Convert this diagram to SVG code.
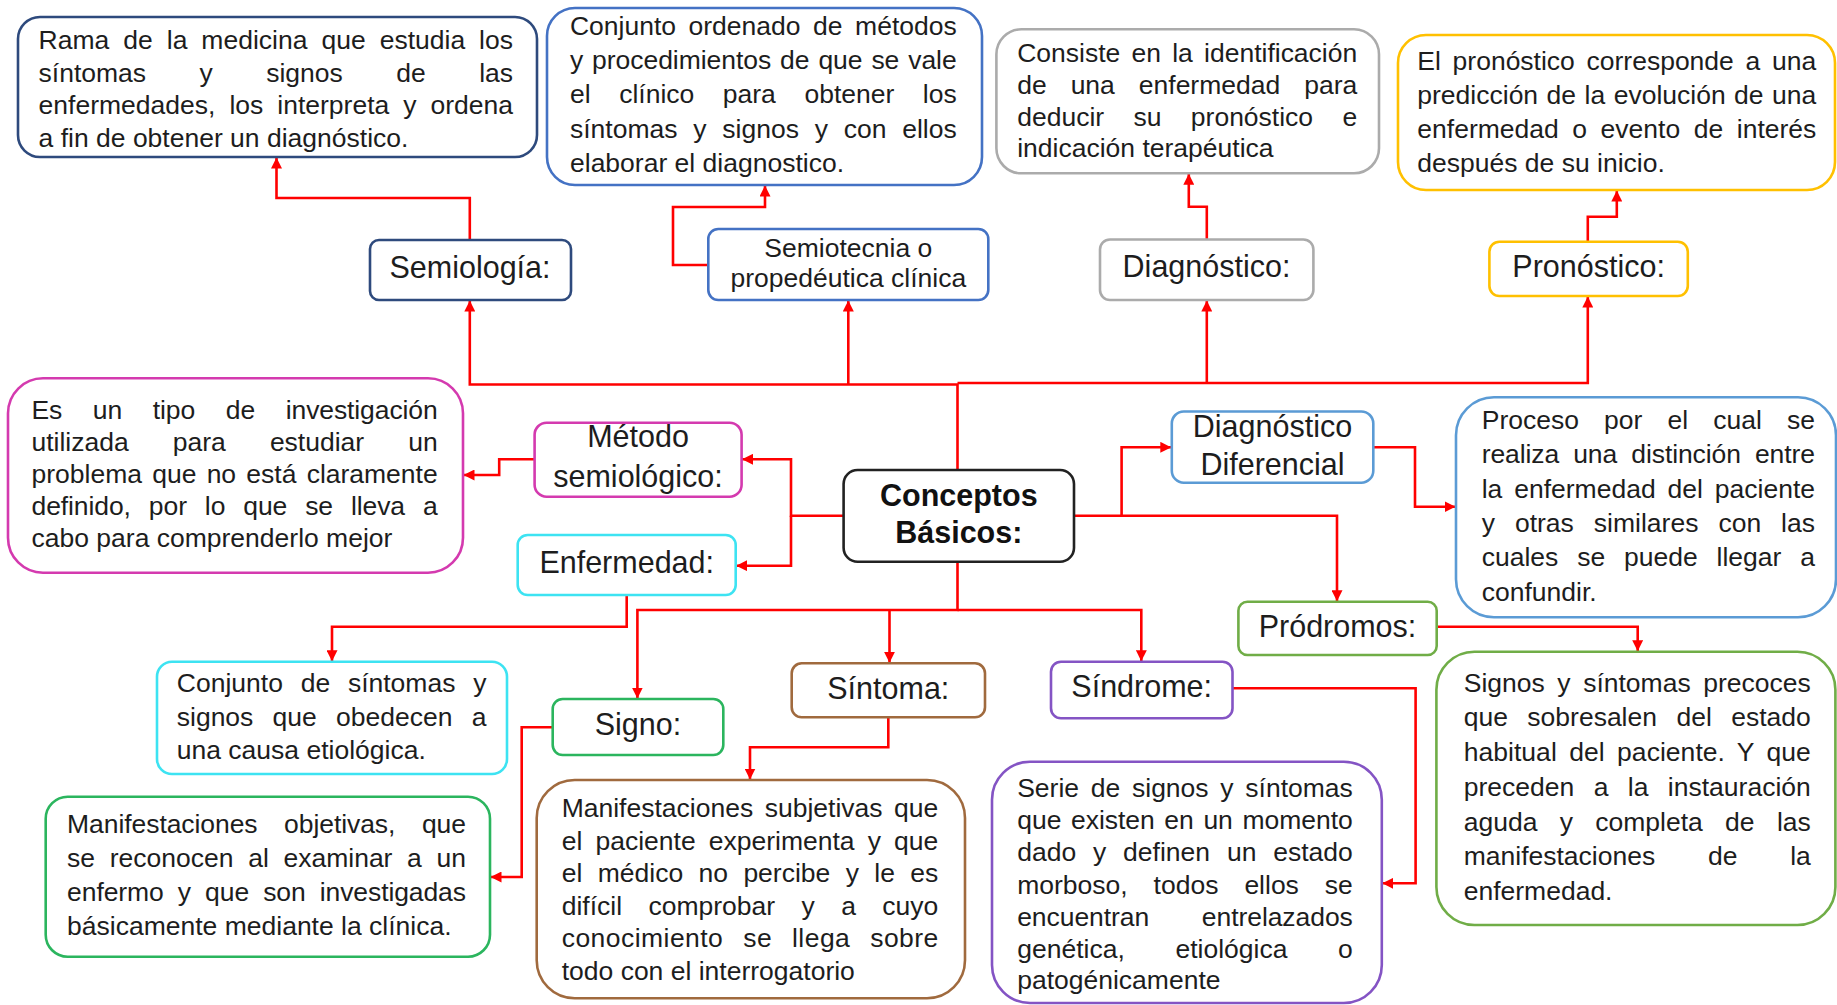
<svg xmlns="http://www.w3.org/2000/svg" width="1837" height="1005" viewBox="0 0 1837 1005">
<defs>
<marker id="ah" viewBox="0 0 10 10" refX="10" refY="5" markerWidth="11" markerHeight="11" markerUnits="userSpaceOnUse" orient="auto"><path d="M0,0 L10,5 L0,10 z" fill="#ff0000"/></marker>
<style>
.bx{fill:#ffffff;stroke-width:2.6}
.b{font-family:"Liberation Sans",Arial,sans-serif;font-size:26.5px;fill:#1d1d1d}
.l{font-family:"Liberation Sans",Arial,sans-serif;font-size:30.5px;fill:#1d1d1d;text-anchor:middle}
.k{font-family:"Liberation Sans",Arial,sans-serif;font-size:30.5px;font-weight:bold;fill:#111;text-anchor:middle}
.c{fill:none;stroke:#ff0000;stroke-width:2.6;marker-end:url(#ah)}
.c0{fill:none;stroke:#ff0000;stroke-width:2.6}
.navy{stroke:#2E4A7D}.blue{stroke:#4472C4}.gray{stroke:#ABABAB}.gold{stroke:#FFC000}
.mag{stroke:#D43AAF}.cyan{stroke:#3DE3F2}.lblue{stroke:#5B9BD5}.lgreen{stroke:#70AD47}
.green{stroke:#2BB55E}.brown{stroke:#A06A3E}.purple{stroke:#8454C4}.black{stroke:#222}
</style>
</defs>
<rect width="1837" height="1005" fill="#ffffff"/>

<g id="connectors">
<path class="c" d="M469.8,240 V198 H276.5 V157.5"/>
<path class="c" d="M708.3,265 H673 V207 H765 V185.5"/>
<path class="c" d="M1206.8,239.5 V206.7 H1188.8 V173.8"/>
<path class="c" d="M1587.8,241.7 V216.7 H1616.8 V190.5"/>
<path class="c" d="M957.5,470 V384.5 H469.8 V300.5"/>
<path class="c" d="M848.3,384.5 V300.5"/>
<path class="c" d="M957.5,383 H1587.8 V296.5"/>
<path class="c" d="M1206.8,383 V300.5"/>
<path class="c" d="M843.6,515.7 H791 V459.3 H742"/>
<path class="c" d="M791,515.7 V565.7 H736.2"/>
<path class="c" d="M534.6,459.3 H499.2 V475 H463.5"/>
<path class="c" d="M626.7,595 V626.7 H332 V661.2"/>
<path class="c" d="M957.5,561.7 V610 H637.4 V698.5"/>
<path class="c" d="M957.5,610 H1141.3 V661.2"/>
<path class="c" d="M889.5,610 V662.8"/>
<path class="c" d="M552.7,727.3 H521.7 V877 H490.5"/>
<path class="c" d="M888.3,717.3 V747.3 H750 V779.5"/>
<path class="c" d="M1232.5,688.3 H1415.6 V883.3 H1382.3"/>
<path class="c" d="M1074,515.7 H1121.6 V447.3 H1171.3"/>
<path class="c" d="M1121.6,515.7 H1337 V601.2"/>
<path class="c" d="M1373.3,447.3 H1415 V506.7 H1455.5"/>
<path class="c" d="M1436.7,626.7 H1637.7 V651.2"/>
</g>

<g id="conceptos">
<rect class="bx black" x="843.6" y="470" width="230.4" height="91.7" rx="14"/>
<text class="k" x="958.8" y="506">Conceptos</text>
<text class="k" x="958.8" y="542.7">Básicos:</text>
</g>

<g id="semiologia">
<rect class="bx navy" x="370" y="240" width="201" height="60" rx="9"/>
<text class="l" x="470" y="278">Semiología:</text>
</g>
<g id="def-semiologia">
<rect class="bx navy" x="18" y="17" width="519" height="140" rx="22"/>
<text class="b" x="38.6" y="49" textLength="474.4" lengthAdjust="spacing" word-spacing="6.6">Rama de la medicina que estudia los</text>
<text class="b" x="38.6" y="81.5" textLength="474.4" lengthAdjust="spacing" word-spacing="46.1">síntomas y signos de las</text>
<text class="b" x="38.6" y="114" textLength="474.4" lengthAdjust="spacing" word-spacing="6.6">enfermedades, los interpreta y ordena</text>
<text class="b" x="38.6" y="146.5">a fin de obtener un diagnóstico.</text>
</g>

<g id="semiotecnia">
<rect class="bx blue" x="708.3" y="229" width="280" height="71" rx="10"/>
<text class="b" x="848.3" y="256.7" text-anchor="middle">Semiotecnia o</text>
<text class="b" x="848.3" y="287" text-anchor="middle">propedéutica clínica</text>
</g>
<g id="def-semiotecnia">
<rect class="bx blue" x="547" y="8" width="435" height="177" rx="28"/>
<text class="b" x="570" y="35" textLength="386.7" lengthAdjust="spacing" word-spacing="5.2">Conjunto ordenado de métodos</text>
<text class="b" x="570" y="69.2" textLength="386.7" lengthAdjust="spacing" word-spacing="1.6">y procedimientos de que se vale</text>
<text class="b" x="570" y="103.4" textLength="386.7" lengthAdjust="spacing" word-spacing="21.2">el clínico para obtener los</text>
<text class="b" x="570" y="137.6" textLength="386.7" lengthAdjust="spacing" word-spacing="8.4">síntomas y signos y con ellos</text>
<text class="b" x="570" y="171.8">elaborar el diagnostico.</text>
</g>

<g id="diagnostico">
<rect class="bx gray" x="1100" y="239.5" width="213.4" height="60.5" rx="10"/>
<text class="l" x="1206.5" y="277">Diagnóstico:</text>
</g>
<g id="def-diagnostico">
<rect class="bx gray" x="996.4" y="29.3" width="382.6" height="144" rx="25"/>
<text class="b" x="1017.2" y="61.7" textLength="340" lengthAdjust="spacing" word-spacing="3.9">Consiste en la identificación</text>
<text class="b" x="1017.2" y="93.5" textLength="340" lengthAdjust="spacing" word-spacing="16.6">de una enfermedad para</text>
<text class="b" x="1017.2" y="125.5" textLength="340" lengthAdjust="spacing" word-spacing="22">deducir su pronóstico e</text>
<text class="b" x="1017.2" y="157.3">indicación terapéutica</text>
</g>

<g id="pronostico">
<rect class="bx gold" x="1489.4" y="241.7" width="198.4" height="54.3" rx="10"/>
<text class="l" x="1588.6" y="276.7">Pronóstico:</text>
</g>
<g id="def-pronostico">
<rect class="bx gold" x="1398" y="35" width="437" height="155" rx="28"/>
<text class="b" x="1417.3" y="70" textLength="399" lengthAdjust="spacing" word-spacing="4.4">El pronóstico corresponde a una</text>
<text class="b" x="1417.3" y="103.8" textLength="399" lengthAdjust="spacing" word-spacing="1.1">predicción de la evolución de una</text>
<text class="b" x="1417.3" y="137.6" textLength="399" lengthAdjust="spacing" word-spacing="6.2">enfermedad o evento de interés</text>
<text class="b" x="1417.3" y="171.5">después de su inicio.</text>
</g>

<g id="metodo">
<rect class="bx mag" x="534.6" y="422.7" width="207" height="74" rx="12"/>
<text class="l" x="638" y="447.3">Método</text>
<text class="l" x="638" y="487.3">semiológico:</text>
</g>
<g id="def-metodo">
<rect class="bx mag" x="8" y="378.3" width="455" height="194.4" rx="35"/>
<text class="b" x="31.5" y="419.3" textLength="406.2" lengthAdjust="spacing" word-spacing="23.4">Es un tipo de investigación</text>
<text class="b" x="31.5" y="451" textLength="406.2" lengthAdjust="spacing" word-spacing="36.7">utilizada para estudiar un</text>
<text class="b" x="31.5" y="483" textLength="406.2" lengthAdjust="spacing" word-spacing="2.9">problema que no está claramente</text>
<text class="b" x="31.5" y="515" textLength="406.2" lengthAdjust="spacing" word-spacing="10.7">definido, por lo que se lleva a</text>
<text class="b" x="31.5" y="547">cabo para comprenderlo mejor</text>
</g>

<g id="enfermedad">
<rect class="bx cyan" x="517.7" y="535" width="218" height="60" rx="10"/>
<text class="l" x="626.7" y="573.3">Enfermedad:</text>
</g>
<g id="def-enfermedad">
<rect class="bx cyan" x="157" y="661.7" width="350" height="112.3" rx="15"/>
<text class="b" x="176.8" y="691.7" textLength="309.6" lengthAdjust="spacing" word-spacing="10.4">Conjunto de síntomas y</text>
<text class="b" x="176.8" y="725.5" textLength="309.6" lengthAdjust="spacing" word-spacing="11.9">signos que obedecen a</text>
<text class="b" x="176.8" y="759.3">una causa etiológica.</text>
</g>

<g id="diag-diferencial">
<rect class="bx lblue" x="1171.8" y="411.5" width="201.5" height="71.2" rx="12"/>
<text class="l" x="1272.5" y="437.3">Diagnóstico</text>
<text class="l" x="1272.5" y="475">Diferencial</text>
</g>
<g id="def-diag-diferencial">
<rect class="bx lblue" x="1456" y="397.3" width="380" height="220" rx="38"/>
<text class="b" x="1481.7" y="429" textLength="333.3" lengthAdjust="spacing" word-spacing="17.8">Proceso por el cual se</text>
<text class="b" x="1481.7" y="463.3" textLength="333.3" lengthAdjust="spacing" word-spacing="6.9">realiza una distinción entre</text>
<text class="b" x="1481.7" y="497.7" textLength="333.3" lengthAdjust="spacing" word-spacing="4.6">la enfermedad del paciente</text>
<text class="b" x="1481.7" y="532" textLength="333.3" lengthAdjust="spacing" word-spacing="12.6">y otras similares con las</text>
<text class="b" x="1481.7" y="566.3" textLength="333.3" lengthAdjust="spacing" word-spacing="11.5">cuales se puede llegar a</text>
<text class="b" x="1481.7" y="600.7">confundir.</text>
</g>

<g id="prodromos">
<rect class="bx lgreen" x="1238.4" y="601.7" width="198.3" height="53.3" rx="9"/>
<text class="l" x="1337.5" y="637">Pródromos:</text>
</g>
<g id="def-prodromos">
<rect class="bx lgreen" x="1436.4" y="651.7" width="399" height="273.3" rx="38"/>
<text class="b" x="1463.7" y="691.7" textLength="347.1" lengthAdjust="spacing" word-spacing="5.2">Signos y síntomas precoces</text>
<text class="b" x="1463.7" y="726.4" textLength="347.1" lengthAdjust="spacing" word-spacing="12.1">que sobresalen del estado</text>
<text class="b" x="1463.7" y="761.1" textLength="347.1" lengthAdjust="spacing" word-spacing="5">habitual del paciente. Y que</text>
<text class="b" x="1463.7" y="795.8" textLength="347.1" lengthAdjust="spacing" word-spacing="12">preceden a la instauración</text>
<text class="b" x="1463.7" y="830.5" textLength="347.1" lengthAdjust="spacing" word-spacing="15">aguda y completa de las</text>
<text class="b" x="1463.7" y="865.2" textLength="347.1" lengthAdjust="spacing" word-spacing="45.4">manifestaciones de la</text>
<text class="b" x="1463.7" y="900">enfermedad.</text>
</g>

<g id="signo">
<rect class="bx green" x="552.7" y="699" width="170.6" height="56" rx="10"/>
<text class="l" x="638" y="735">Signo:</text>
</g>
<g id="def-signo">
<rect class="bx green" x="45.7" y="796.7" width="444.3" height="160" rx="22"/>
<text class="b" x="67.1" y="832.7" textLength="398.9" lengthAdjust="spacing" word-spacing="19.3">Manifestaciones objetivas, que</text>
<text class="b" x="67.1" y="866.8" textLength="398.9" lengthAdjust="spacing" word-spacing="7.3">se reconocen al examinar a un</text>
<text class="b" x="67.1" y="900.9" textLength="398.9" lengthAdjust="spacing" word-spacing="6.9">enfermo y que son investigadas</text>
<text class="b" x="67.1" y="935">básicamente mediante la clínica.</text>
</g>

<g id="sintoma">
<rect class="bx brown" x="791.7" y="663.3" width="193.3" height="54" rx="10"/>
<text class="l" x="888.3" y="699">Síntoma:</text>
</g>
<g id="def-sintoma">
<rect class="bx brown" x="536.7" y="780" width="428.3" height="218.3" rx="38"/>
<text class="b" x="561.7" y="817" textLength="376.6" lengthAdjust="spacing" word-spacing="4.2">Manifestaciones subjetivas que</text>
<text class="b" x="561.7" y="849.5" textLength="376.6" lengthAdjust="spacing" word-spacing="5.8">el paciente experimenta y que</text>
<text class="b" x="561.7" y="882" textLength="376.6" lengthAdjust="spacing" word-spacing="8">el médico no percibe y le es</text>
<text class="b" x="561.7" y="914.5" textLength="376.6" lengthAdjust="spacing" word-spacing="19">difícil comprobar y a cuyo</text>
<text class="b" x="561.7" y="947" textLength="376.6" lengthAdjust="spacing" word-spacing="12.1">conocimiento se llega sobre</text>
<text class="b" x="561.7" y="979.5">todo con el interrogatorio</text>
</g>

<g id="sindrome">
<rect class="bx purple" x="1051" y="661.7" width="181.5" height="56.6" rx="10"/>
<text class="l" x="1141.7" y="696.7">Síndrome:</text>
</g>
<g id="def-sindrome">
<rect class="bx purple" x="992" y="761.7" width="389.8" height="241.3" rx="38"/>
<text class="b" x="1017.2" y="796.5" textLength="335.6" lengthAdjust="spacing" word-spacing="4.4">Serie de signos y síntomas</text>
<text class="b" x="1017.2" y="828.5" textLength="335.6" lengthAdjust="spacing" word-spacing="2.2">que existen en un momento</text>
<text class="b" x="1017.2" y="861" textLength="335.6" lengthAdjust="spacing" word-spacing="9.5">dado y definen un estado</text>
<text class="b" x="1017.2" y="893.5" textLength="335.6" lengthAdjust="spacing" word-spacing="18.6">morboso, todos ellos se</text>
<text class="b" x="1017.2" y="926" textLength="335.6" lengthAdjust="spacing" word-spacing="45.4">encuentran entrelazados</text>
<text class="b" x="1017.2" y="958" textLength="335.6" lengthAdjust="spacing" word-spacing="43.3">genética, etiológica o</text>
<text class="b" x="1017.2" y="989">patogénicamente</text>
</g>
</svg>
